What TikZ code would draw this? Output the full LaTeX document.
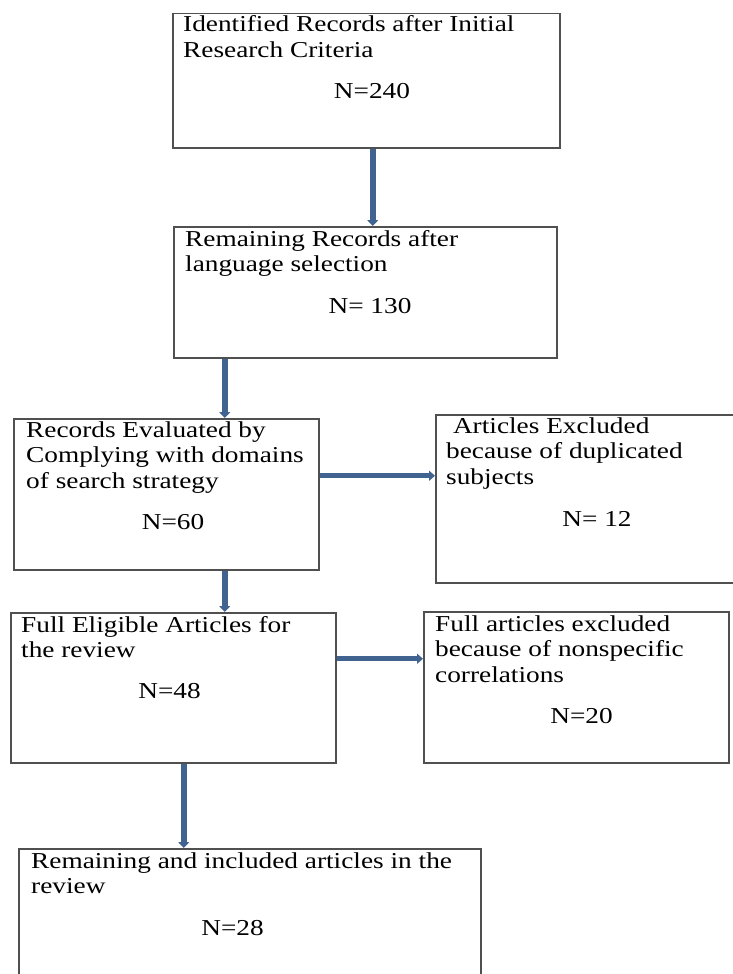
\documentclass[tikz,border=0pt]{standalone}
\usepackage{fontspec}
\setmainfont{Liberation Serif}[FakeStretch=1.2]
\usetikzlibrary{arrows.meta}
\definecolor{flowblue}{HTML}{41638F}
\definecolor{boxgray}{HTML}{505050}
\begin{document}
\begin{tikzpicture}[x=1pt,y=-1pt,
  every node/.style={inner sep=0pt,font=\fontsize{22.75}{25.5}\selectfont},
  recbox/.style={draw=boxgray,line width=1.5pt,anchor=north west},
  txt/.style={align=left,anchor=base west},
  count/.style={anchor=base},
  vflow/.style={draw=flowblue,line width=6pt,-{Triangle[width=11pt,length=6pt]}},
  hflow/.style={draw=flowblue,line width=5pt,-{Triangle[width=10pt,length=6pt]}}]
\useasboundingbox (0,0) rectangle (733,974);
\clip (0,0) rectangle (733,974);
\node[recbox,minimum width=387pt,minimum height=134pt] (b1) at (172,13) {};
\node[recbox,minimum width=383pt,minimum height=131pt] (b2) at (173,226) {};
\node[recbox,minimum width=305pt,minimum height=151pt] (b3) at (13,418) {};
\node[recbox,minimum width=310pt,minimum height=168pt] (b4) at (435,414) {};
\node[recbox,minimum width=325pt,minimum height=150pt] (b5) at (10,612) {};
\node[recbox,minimum width=305pt,minimum height=151pt] (b6) at (423,611) {};
\node[recbox,minimum width=462pt,minimum height=140pt] (b7) at (18,848) {};
\node[txt] (t1) at ([shift={(11,44.5)}]b1.north west) {Identified Records after Initial\\Research Criteria};
\node[count] (n1) at ([shift={(200,85)}]b1.north west) {N=240};
\node[txt] (t2) at ([shift={(12,45.5)}]b2.north west) {Remaining Records after\\language selection};
\node[count] (n2) at ([shift={(197,87)}]b2.north west) {N= 130};
\node[txt] (t3) at ([shift={(13,70)}]b3.north west) {Records Evaluated by\\Complying with domains\\of search strategy};
\node[count] (n3) at ([shift={(160,111)}]b3.north west) {N=60};
\node[txt] (t4) at ([shift={(11,70)}]b4.north west) {~Articles Excluded\\because of duplicated\\subjects};
\node[count] (n4) at ([shift={(162,112)}]b4.north west) {N= 12};
\node[txt] (t5) at ([shift={(11,45.5)}]b5.north west) {Full Eligible Articles for\\the review};
\node[count] (n5) at ([shift={(159.5,86)}]b5.north west) {N=48};
\node[txt] (t6) at ([shift={(12,71)}]b6.north west) {Full articles excluded\\because of nonspecific\\correlations};
\node[count] (n6) at ([shift={(158.5,112)}]b6.north west) {N=20};
\node[txt] (t7) at ([shift={(13,45.5)}]b7.north west) {Remaining and included articles in the\\review};
\node[count] (n7) at ([shift={(214.5,87)}]b7.north west) {N=28};
\draw[vflow] ([xshift=6.5pt]b1.south) -- ([xshift=6.5pt]b1.south |- b2.north);
\draw[vflow] ([xshift=58.5pt]b3.north |- b2.south) -- ([xshift=58.5pt]b3.north);
\draw[hflow] ([yshift=18.5pt]b3.east) -- ([yshift=18.5pt]b3.east -| b4.west);
\draw[vflow] ([xshift=58.5pt]b3.south) -- ([xshift=58.5pt]b3.south |- b5.north);
\draw[hflow] ([yshift=29pt]b5.east) -- ([yshift=29pt]b5.east -| b6.west);
\draw[vflow] ([xshift=10.5pt]b5.south) -- ([xshift=10.5pt]b5.south |- b7.north);
\end{tikzpicture}
\end{document}
